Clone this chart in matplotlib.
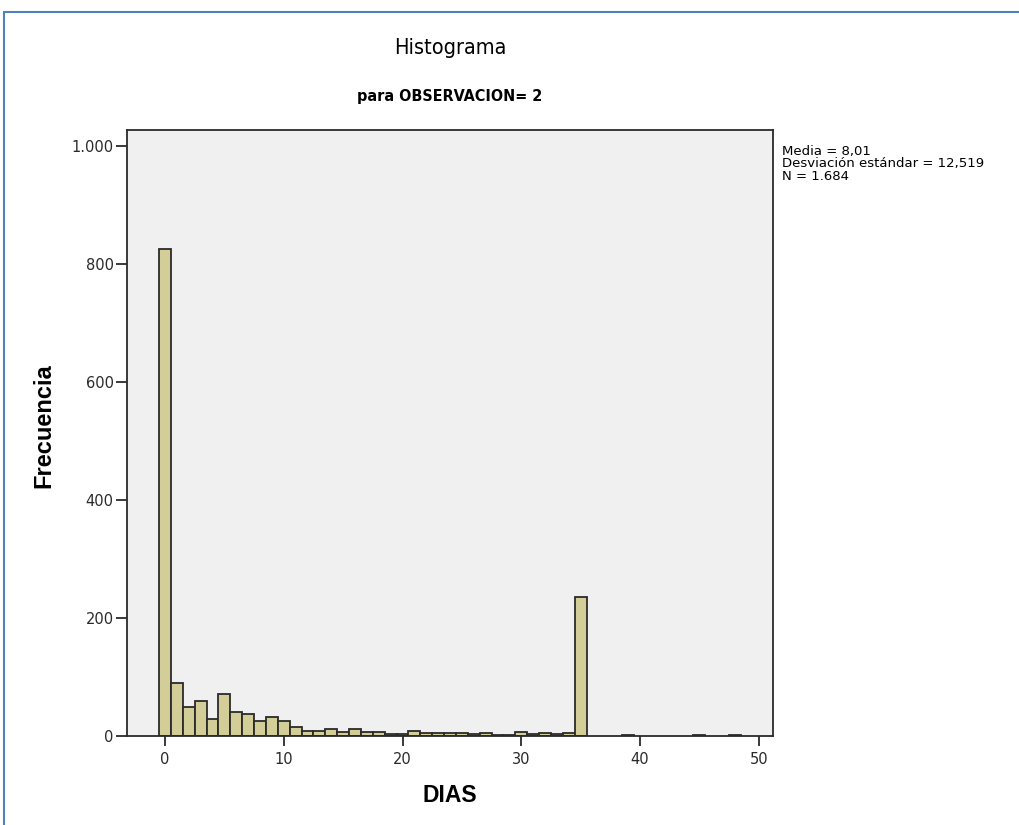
import matplotlib.pyplot as plt
from matplotlib.patches import Rectangle
from matplotlib.ticker import FuncFormatter

# Frecuencia por día (bins de ancho 1 centrados en cada entero)
dias = list(range(0, 36)) + [39, 45, 48]
frecuencia = [826, 89, 49, 59, 29, 71, 41, 37, 26, 32,
              26, 16, 9, 9, 12, 7, 12, 7, 7, 3,
              4, 8, 5, 5, 5, 5, 3, 5, 2, 1,
              6, 3, 5, 3, 5, 235, 1, 1, 1]
x_ticks = [0, 10, 20, 30, 40, 50]
y_ticks = [0, 200, 400, 600, 800, 1000]
stats_lines = ["Media = 8,01", "Desviación estándar = 12,519", "N = 1.684"]

plt.rcParams['font.family'] = ['Liberation Sans', 'DejaVu Sans']
condensed = dict(family='DejaVu Sans', fontstretch='condensed')

fig = plt.figure(figsize=(10.19, 8.25), dpi=100)
W, H = 1019, 825

# blue frame around the output panel
fig.patches.append(Rectangle((4 / W, -0.1), 1.2, 1 - 12 / H + 0.1,
                             transform=fig.transFigure, fill=False,
                             edgecolor='#4f81bd', linewidth=1.5))

ax = fig.add_axes([127 / W, 1 - 736 / H, 646 / W, 606 / H])
ax.set_facecolor('#f0f0f0')
ax.bar(dias, frecuencia, width=1.0, color='#d3ce97', edgecolor='#2a2a2a',
       linewidth=1.3)
ax.set_xlim(-3.2, 51.2)
ax.set_ylim(0, 1027)
ax.set_xticks(x_ticks)
ax.set_yticks(y_ticks)
ax.yaxis.set_major_formatter(FuncFormatter(lambda v, p: f"{int(v):,}".replace(',', '.')))
ax.tick_params(axis='both', direction='out', width=1.3, colors='#2a2a2a',
               labelsize=10.5, labelfontfamily='DejaVu Sans')
ax.tick_params(axis='x', length=7.5, pad=4)
ax.tick_params(axis='y', length=8, pad=1.5)
for s in ax.spines.values():
    s.set_linewidth(1.3)
    s.set_color('#2a2a2a')

ax.set_xlabel('DIAS', fontsize=16.5, fontweight='bold', va='center')
ax.xaxis.set_label_coords(0.5, (736 - 795) / 606)
ax.set_ylabel('Frecuencia', fontsize=17, fontweight='bold', va='center')
ax.yaxis.set_label_coords((44 - 127) / 646, (736 - 426) / 606)

fig.text(450 / W, 1 - 48 / H, 'Histograma', ha='center', va='center',
         fontsize=15.5, **condensed)
fig.text(450 / W, 1 - 97 / H, 'para OBSERVACION= 2', ha='center', va='center',
         fontsize=11.5, fontweight='bold', **condensed)
for i, line in enumerate(stats_lines):
    fig.text(782 / W, 1 - (152 + 12 * i) / H, line, ha='left', va='center',
             fontsize=9.5, family='DejaVu Sans', fontstretch='normal')

fig.savefig('out.png', dpi=100)
